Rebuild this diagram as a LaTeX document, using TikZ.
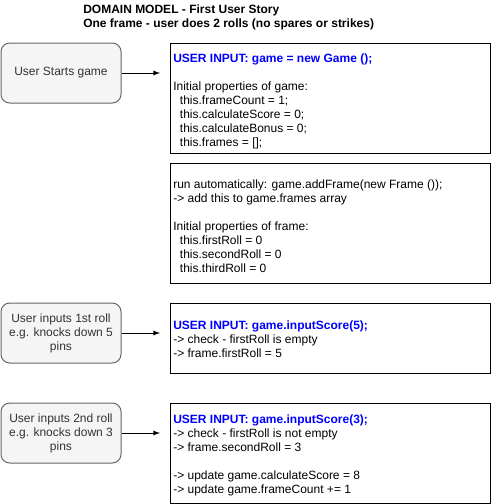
\documentclass[tikz,border=0pt]{standalone}
\usepackage{fontspec}
\setmainfont{Liberation Sans}
\usetikzlibrary{arrows,positioning}
\definecolor{inputblue}{RGB}{0,0,255}
\definecolor{userfill}{HTML}{F5F5F5}
\definecolor{userline}{HTML}{666666}
\definecolor{usertext}{HTML}{333333}
\newcommand{\userinput}[1]{\textcolor{inputblue}{\bfseries #1}}
\newcommand{\ind}{\hspace*{5pt}}
\tikzset{
    raw box/.style={rectangle, line width=0.75pt, font=\fontsize{9}{10.5}\selectfont},
    user box/.style={raw box, draw=userline, fill=userfill, text=usertext, rounded corners=6.5pt,
        minimum width=90pt, minimum height=45pt, align=center, inner sep=1pt},
    code box/.style={raw box, draw=black, fill=white, minimum width=240pt, anchor=north west},
    code text/.style={anchor=base west, inner sep=0pt, align=left, font=\fontsize{9}{10.5}\selectfont},
    title text/.style={code text, font=\fontsize{9}{10.5}\selectfont\bfseries}
}
\begin{document}
\begin{tikzpicture}[x=0.75pt, y=-0.75pt, >=latex]
    \useasboundingbox (0,0) rectangle (491,504);
    % anchored at the baseline of the last line
    \node[title text] (title) at (83,27.5) {DOMAIN MODEL - First User Story\\One frame - user does 2 rolls (no spares or strikes)};
    % left column
    \node[user box] (start) at (61,73) {User Starts game};
    \node[user box] (roll1) at (61,333) {User inputs 1st roll\\e.g. knocks down 5\\pins};
    \node[user box] (roll2) at (61,433) {User inputs 2nd roll\\e.g. knocks down 3\\pins};
    % right column
    \node[code box, minimum height=82.5pt] (game) at (170,43) {};
    \node[code box, minimum height=90pt] (frame) at (170,163) {};
    \node[code box, minimum height=52.5pt] (score5) at (170,303) {};
    \node[code box, minimum height=75pt] (score3) at (170,403) {};
    \node[code text] (game text) at (173,146) {\userinput{USER INPUT: game = new Game ();}\\[10.5pt]
        Initial properties of game:\\
        \ind this.frameCount = 1;\\
        \ind this.calculateScore = 0;\\
        \ind this.calculateBonus = 0;\\
        \ind this.frames = [];};
    \node[code text] (frame text) at (173,272) {run automatically: game.addFrame(new Frame ());\\
        -> add this to game.frames array\\[10.5pt]
        Initial properties of frame:\\
        \ind this.firstRoll = 0\\
        \ind this.secondRoll = 0\\
        \ind this.thirdRoll = 0};
    \node[code text] (score5 text) at (173,357) {\userinput{USER INPUT: game.inputScore(5);}\\
        -> check - firstRoll is empty\\
        -> frame.firstRoll = 5};
    \node[code text] (score3 text) at (173,493) {\userinput{USER INPUT: game.inputScore(3);}\\
        -> check - firstRoll is not empty\\
        -> frame.secondRoll = 3\\[10.5pt]
        -> update game.calculateScore = 8\\
        -> update game.frameCount += 1};
    % arrows
    \foreach \from/\to in {start/game, roll1/score5, roll2/score3}
        \draw[->, line width=0.75pt, shorten >=7.5pt] (\from.east) -- (\from.east -| \to.west);
\end{tikzpicture}
\end{document}
